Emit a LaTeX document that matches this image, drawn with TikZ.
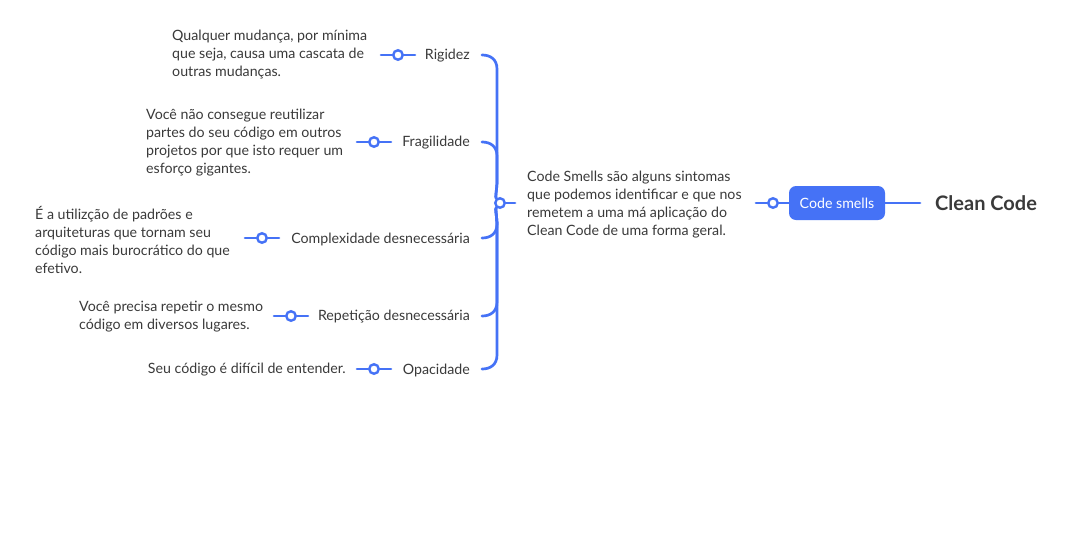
\documentclass[tikz,border=0pt]{standalone}
\usepackage{fontspec}
\setmainfont{Lato}
\definecolor{mblue}{HTML}{4572F6}
\definecolor{mtext}{HTML}{3A3A3A}
\begin{document}
\begin{tikzpicture}[x=1pt,y=-1pt,
  conn/.style={draw=mblue,line width=2.7pt,line cap=round},
  dot/.style={circle,draw=mblue,line width=2.4pt,fill=white,inner sep=0pt,minimum size=9.5pt},
  lbl/.style={text=mtext,font=\fontsize{14.2}{18}\selectfont,inner sep=0pt},
  desc/.style={text=mtext,font=\fontsize{14.2}{18}\selectfont,inner sep=0pt,align=left},
]
\useasboundingbox[fill=white] (0,0) rectangle (1074,544);
% root
\node[text=mtext,font=\fontsize{20}{22}\bfseries\selectfont,anchor=west,inner sep=0pt] (root) at (935,203.5) {Clean Code};
\node[fill=mblue,rounded corners=7pt,text=white,font=\fontsize{14.2}{16}\selectfont,minimum width=96pt,minimum height=34pt,inner sep=0pt] (cs) at (837,203) {Code smells};
\coordinate (rootL) at (920,203);
\draw[conn] (cs.east) -- (rootL);
% code smells description
\coordinate (csL) at (756,203);
\node[dot] (csdot) at (773,203) {};
\draw[conn] (csL) -- (csdot.west);
\draw[conn] (csdot.east) -- (cs.west);
\node[desc,anchor=west] (csdesc) at (527,205) {Code Smells são alguns sintomas\\que podemos identificar e que nos\\remetem a uma má aplicação do\\Clean Code de uma forma geral.};
% junction
\node[dot] (j) at (500,203) {};
\coordinate (jR) at (515,203);
\draw[conn] (j.east) -- (jR);
% children labels
\node[lbl,anchor=east] (c1) at (470,56) {Rigidez};
\node[lbl,anchor=east] (c2) at (470,143) {Fragilidade};
\node[lbl,anchor=east] (c3) at (470,239) {Complexidade desnecessária};
\node[lbl,anchor=east] (c4) at (470,317) {Repetição desnecessária};
\node[lbl,anchor=east] (c5) at (470,370) {Opacidade};
% branches from junction
\foreach \n/\y in {c1/55,c2/142,c3/238,c4/316,c5/369}{
  \pgfmathsetmacro{\s}{\y<203 ? -1 : 1}
  \draw[conn] (j) .. controls (495,203+\s*6) and (497,203+\s*14) .. (497,203+\s*22)
     -- (497,\y-\s*14) .. controls (497,\y-\s*4) and (490,\y) .. (482,\y);
}
% child dots
\node[dot] (d1) at (398,55) {};
\node[dot] (d2) at (374,142) {};
\node[dot] (d3) at (262,238) {};
\node[dot] (d4) at (291,316) {};
\node[dot] (d5) at (374,369) {};
\foreach \d/\c in {d1/c1,d2/c2,d3/c3,d4/c4,d5/c5}{
  \draw[conn] (\d.west) -- ++(-11,0) coordinate (\d l);
  \draw[conn] (\d.east) -- ++(11,0);
}
% descriptions
\node[desc,anchor=west] (e1) at (172,55) {Qualquer mudança, por mínima\\que seja, causa uma cascata de\\outras mudanças.};
\node[desc,anchor=west] (e2) at (146,143) {Você não consegue reutilizar\\partes do seu código em outros\\projetos por que isto requer um\\esforço gigantes.};
\node[desc,anchor=west] (e3) at (35,240) {É a utilizção de padrões e\\arquiteturas que tornam seu\\código mais burocrático do que\\efetivo.};
\node[desc,anchor=west] (e4) at (79,317) {Você precisa repetir o mesmo\\código em diversos lugares.};
\node[desc,anchor=east] (e5) at (346,370) {Seu código é difícil de entender.};
\end{tikzpicture}
\end{document}
